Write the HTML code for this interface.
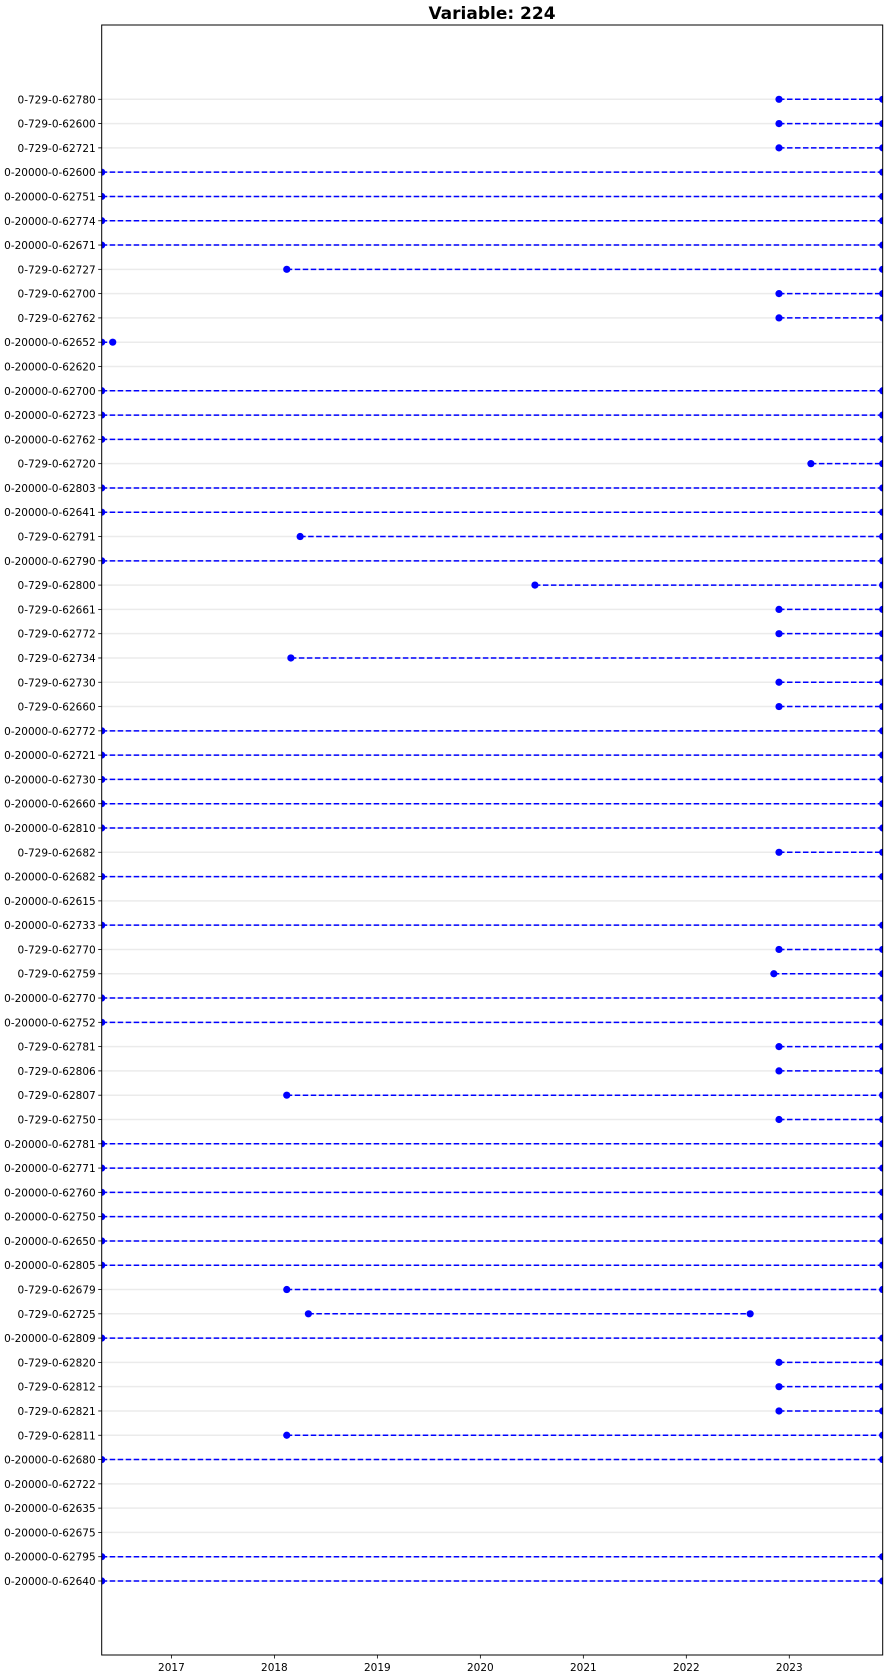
<!DOCTYPE html>
<html><head><meta charset="utf-8"><style>
html,body{margin:0;padding:0;background:#fff;}
svg{display:block;font-family:"DejaVu Sans","Liberation Sans",sans-serif;}
</style></head><body>
<svg id="chart" width="889" height="1680" viewBox="0 0 889 1680" xmlns="http://www.w3.org/2000/svg">
<defs><clipPath id="plotclip"><rect x="101.7" y="25" width="781" height="1630"/></clipPath></defs>
<text x="492" y="19" text-anchor="middle" font-size="17" font-weight="bold">Variable: 224</text>
<g id="grid"></g>
<g id="series" clip-path="url(#plotclip)"></g>
<rect x="101.7" y="25" width="781" height="1630" fill="none" stroke="#000" stroke-width="1"/>
<g id="yaxis"></g>
<g id="xaxis"></g>
</svg>
<script>
const stations = ["0-729-0-62780","0-729-0-62600","0-729-0-62721","0-20000-0-62600","0-20000-0-62751","0-20000-0-62774","0-20000-0-62671","0-729-0-62727","0-729-0-62700","0-729-0-62762","0-20000-0-62652","0-20000-0-62620","0-20000-0-62700","0-20000-0-62723","0-20000-0-62762","0-729-0-62720","0-20000-0-62803","0-20000-0-62641","0-729-0-62791","0-20000-0-62790","0-729-0-62800","0-729-0-62661","0-729-0-62772","0-729-0-62734","0-729-0-62730","0-729-0-62660","0-20000-0-62772","0-20000-0-62721","0-20000-0-62730","0-20000-0-62660","0-20000-0-62810","0-729-0-62682","0-20000-0-62682","0-20000-0-62615","0-20000-0-62733","0-729-0-62770","0-729-0-62759","0-20000-0-62770","0-20000-0-62752","0-729-0-62781","0-729-0-62806","0-729-0-62807","0-729-0-62750","0-20000-0-62781","0-20000-0-62771","0-20000-0-62760","0-20000-0-62750","0-20000-0-62650","0-20000-0-62805","0-729-0-62679","0-729-0-62725","0-20000-0-62809","0-729-0-62820","0-729-0-62812","0-729-0-62821","0-729-0-62811","0-20000-0-62680","0-20000-0-62722","0-20000-0-62635","0-20000-0-62675","0-20000-0-62795","0-20000-0-62640"];
const F = 2016.323, E = 2023.907;
const startYears = [2022.9,2022.9,2022.9,F,F,F,F,2018.12,2022.9,2022.9,F,null,F,F,F,2023.21,F,F,2018.25,F,2020.53,2022.9,2022.9,2018.16,2022.9,2022.9,F,F,F,F,F,2022.9,F,null,F,2022.9,2022.85,F,F,2022.9,2022.9,2018.12,2022.9,F,F,F,F,F,F,2018.12,2018.33,F,2022.9,2022.9,2022.9,2018.12,F,null,null,null,F,F];
const endYears = [E,E,E,E,E,E,E,E,E,E,2016.43,null,E,E,E,E,E,E,E,E,E,E,E,E,E,E,E,E,E,E,E,E,E,null,E,E,E,E,E,E,E,E,E,E,E,E,E,E,E,E,2022.62,E,E,E,E,E,E,null,null,null,E,E];
const xTicks = [2017,2018,2019,2020,2021,2022,2023];

const NS = "http://www.w3.org/2000/svg";
const L = 101.7, R = 882.7, T = 25, B = 1655;
const xMin = 2016.323, xMax = 2023.907;
const y0 = 99.3, dy = (1581 - 99.3) / 61;
function xScale(v){ return L + (v - xMin) / (xMax - xMin) * (R - L); }
function yScale(i){ return y0 + i * dy; }
function mk(tag, attrs, parent){ const e = document.createElementNS(NS, tag); for (const k in attrs) e.setAttribute(k, attrs[k]); parent.appendChild(e); return e; }

const grid = document.getElementById('grid'), series = document.getElementById('series');
const yaxis = document.getElementById('yaxis'), xaxis = document.getElementById('xaxis');

stations.forEach((s, i) => {
  const y = yScale(i);
  const g = mk('line', {x1:L, x2:R, y1:y, y2:y, stroke:'#ebebeb', 'stroke-width':1.5}, grid);
  
  
  const t = mk('line', {x1:L-3.5, x2:L, y1:y, y2:y, stroke:'#000', 'stroke-width':0.8}, yaxis);
  
  
  const lab = mk('text', {x:L-6, y:y+4, 'text-anchor':'end', 'font-size':10.5, fill:'#000'}, yaxis);
  lab.textContent = s;
  
  
  if (startYears[i] !== null) {
    const xa = xScale(startYears[i]), xb = xScale(endYears[i]);
    const ln = mk('line', {x1:xa, x2:xb, y1:y, y2:y, stroke:'#0000ff', 'stroke-width':1.5, 'stroke-dasharray':'5.5,2.5'}, series);
    
    
    [xa, xb].forEach(x => {
      const c = mk('circle', {cx:x, cy:y, r:3.6, fill:'#0000ff'}, series);
      
      
    });
  }
});

xTicks.forEach(v => {
  const x = xScale(v);
  const t = mk('line', {x1:x, x2:x, y1:B, y2:B+3.5, stroke:'#000', 'stroke-width':0.8}, xaxis);
  
  
  const lab = mk('text', {x:x, y:B+16, 'text-anchor':'middle', 'font-size':10.5, fill:'#000'}, xaxis);
  lab.textContent = v;
  
  
});
</script>
</body></html>
